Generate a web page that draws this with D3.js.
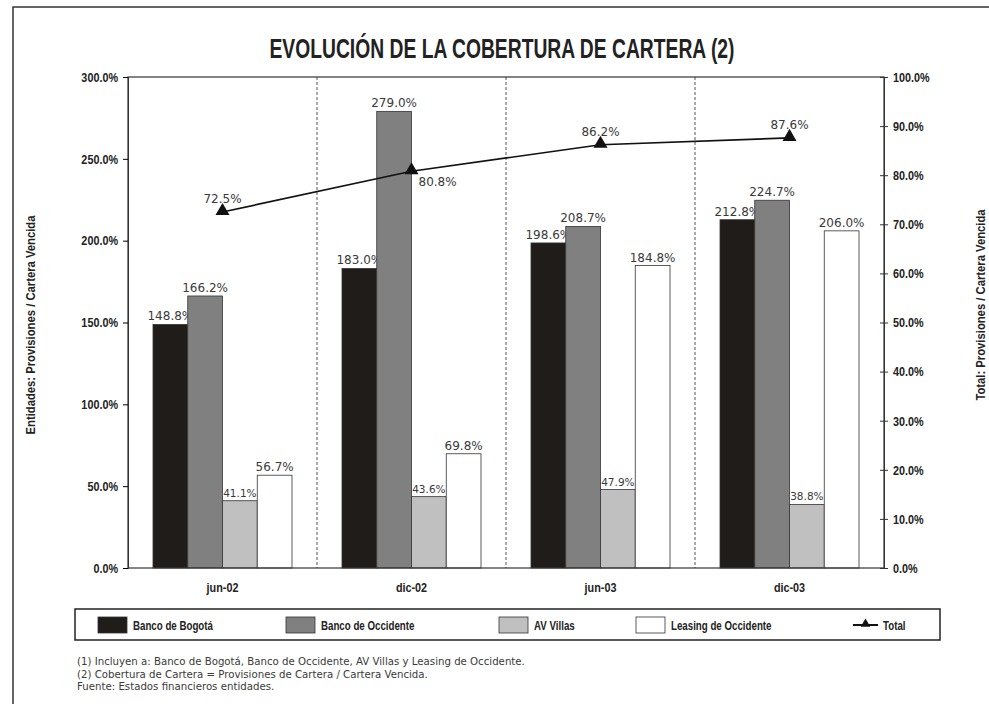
<!DOCTYPE html>
<html>
<head>
<meta charset="utf-8">
<script src="https://cdn.jsdelivr.net/npm/d3@7"></script>
<style>
  body { margin: 0; background: #fff; }
  .cond { font-family: "Liberation Sans", Arial, sans-serif; font-weight: bold; fill: #222; }
  .lbl { font-family: "DejaVu Sans", sans-serif; fill: #3a3a3a; }
</style>
</head>
<body>
<svg width="989" height="704"></svg>
<script>
// Categories and series values (percent).
const periods = ["jun-02", "dic-02", "jun-03", "dic-03"];
const entities = ["Banco de Bogotá", "Banco de Occidente", "AV Villas", "Leasing de Occidente"];
const bogota = [148.8, 183.0, 198.6, 212.8];
const occidente = [166.2, 279.0, 208.7, 224.7];
const avVillas = [41.1, 43.6, 47.9, 38.8];
const leasing = [56.7, 69.8, 184.8, 206.0];
const total = [72.5, 80.8, 86.2, 87.6];
const leftTicks = [0, 50, 100, 150, 200, 250, 300];
const rightTicks = [0, 10, 20, 30, 40, 50, 60, 70, 80, 90, 100];
const footnotes = [
  "(1) Incluyen a: Banco de Bogotá, Banco de Occidente, AV Villas y Leasing de Occidente.",
  "(2) Cobertura de Cartera = Provisiones de Cartera / Cartera Vencida.",
  "Fuente: Estados financieros entidades."
];

const seriesValues = [bogota, occidente, avVillas, leasing];
const fills = ["#201c19", "#808080", "#c0c0c0", "#ffffff"];

const svg = d3.select("svg");

// Squeeze bold text horizontally to imitate a condensed face.
function condense(sel, factor) {
  sel.each(function () {
    const w = this.getComputedTextLength();
    d3.select(this).attr("textLength", w * factor).attr("lengthAdjust", "spacingAndGlyphs");
  });
}

// Outer frame (top and left edges only).
svg.append("path")
  .attr("d", "M13,704 V7 H989")
  .attr("fill", "none").attr("stroke", "#333").attr("stroke-width", 1.5);

// Title.
svg.append("text").attr("class", "cond")
  .attr("x", 502).attr("y", 58)
  .attr("text-anchor", "middle")
  .style("font-size", "27px")
  .attr("textLength", 465).attr("lengthAdjust", "spacingAndGlyphs")
  .text("EVOLUCIÓN DE LA COBERTURA DE CARTERA (2)");

// Scales.
const plotL = 128, plotR = 884, plotT = 77, plotB = 568;
const x = d3.scaleBand().domain(periods).range([plotL, plotR]);
const xs = d3.scaleBand().domain(entities).range([25, x.bandwidth() - 25]);
const yL = d3.scaleLinear().domain([0, 300]).range([plotB, plotT]);
const yR = d3.scaleLinear().domain([0, 100]).range([plotB, plotT]);

// Dotted category dividers.
svg.selectAll("line.div")
  .data(periods.slice(1))
  .enter().append("line")
  .attr("x1", d => x(d)).attr("x2", d => x(d))
  .attr("y1", plotT).attr("y2", plotB)
  .attr("stroke", "#555").attr("stroke-width", 1)
  .attr("stroke-dasharray", "3,2");

// Bars.
const groups = svg.selectAll("g.grp")
  .data(periods)
  .enter().append("g")
  .attr("transform", d => `translate(${x(d)},0)`);

groups.each(function (p, i) {
  const g = d3.select(this);
  entities.forEach((e, k) => {
    const v = seriesValues[k][i];
    g.append("rect")
      .attr("x", xs(e)).attr("width", xs.bandwidth())
      .attr("y", yL(v)).attr("height", plotB - yL(v))
      .attr("fill", fills[k])
      .attr("stroke", "#333").attr("stroke-width", 0.8);
    g.append("text").attr("class", "lbl")
      .attr("x", xs(e) + xs.bandwidth() / 2)
      .attr("y", yL(v) - 4)
      .attr("text-anchor", "middle")
      .style("font-size", k === 2 ? "10.5px" : "12px")
      .text(v.toFixed(1) + "%");
  });
});

// Plot frame.
svg.append("rect")
  .attr("x", plotL).attr("y", plotT)
  .attr("width", plotR - plotL).attr("height", plotB - plotT)
  .attr("fill", "none").attr("stroke", "#333").attr("stroke-width", 1.2);

// Left axis.
const axL = svg.append("g")
  .attr("transform", `translate(${plotL},0)`)
  .call(d3.axisLeft(yL).tickValues(leftTicks).tickSize(5).tickFormat(d => d.toFixed(1) + "%"));
axL.select(".domain").attr("stroke", "#333");
axL.selectAll("text").attr("class", "cond").style("font-size", "13.5px").attr("x", -10).call(condense, 0.8);

// Right axis (ticks cross the line).
const axR = svg.append("g")
  .attr("transform", `translate(${plotR},0)`)
  .call(d3.axisRight(yR).tickValues(rightTicks).tickSize(4).tickFormat(d => d.toFixed(1) + "%"));
axR.select(".domain").attr("stroke", "#333");
axR.selectAll(".tick line").attr("x1", -4).attr("stroke", "#333");
axR.selectAll("text").attr("class", "cond").style("font-size", "13.5px").attr("x", 9).call(condense, 0.8);

// Category labels.
svg.selectAll("text.cat")
  .data(periods)
  .enter().append("text")
  .attr("class", "cond")
  .attr("x", d => x(d) + x.bandwidth() / 2)
  .attr("y", 592)
  .attr("text-anchor", "middle")
  .style("font-size", "13.5px")
  .text(d => d)
  .call(condense, 0.8);

// Axis titles.
svg.append("text").attr("class", "cond")
  .attr("transform", "translate(35,325) rotate(-90)")
  .attr("text-anchor", "middle")
  .style("font-size", "12.5px")
  .text("Entidades: Provisiones / Cartera Vencida")
  .call(condense, 0.9);
svg.append("text").attr("class", "cond")
  .attr("transform", "translate(985,305) rotate(-90)")
  .attr("text-anchor", "middle")
  .style("font-size", "12.5px")
  .text("Total: Provisiones / Cartera Vencida")
  .call(condense, 0.9);

// Total line.
const cx = d => x(d) + x.bandwidth() / 2;
const line = d3.line().x((d, i) => cx(periods[i])).y(d => yR(d));
svg.append("path")
  .datum(total)
  .attr("d", line)
  .attr("fill", "none").attr("stroke", "#111").attr("stroke-width", 1.7);

const tri = d3.symbol().type(d3.symbolTriangle).size(85);
svg.selectAll("path.mk")
  .data(total)
  .enter().append("path")
  .attr("d", tri)
  .attr("transform", (d, i) => `translate(${cx(periods[i])},${yR(d) - 1})`)
  .attr("fill", "#111");

svg.selectAll("text.tot")
  .data(total)
  .enter().append("text")
  .attr("class", "lbl")
  .attr("x", (d, i) => cx(periods[i]) + (i === 1 ? 7 : 0))
  .attr("y", (d, i) => yR(d) + (i === 1 ? 15 : -9))
  .attr("text-anchor", (d, i) => i === 1 ? "start" : "middle")
  .style("font-size", "12px")
  .text(d => d.toFixed(1) + "%");

// Legend.
svg.append("rect")
  .attr("x", 75).attr("y", 609).attr("width", 865).attr("height", 31)
  .attr("fill", "#fff").attr("stroke", "#222").attr("stroke-width", 1.5);

const legendX = [98, 286, 499, 636];
entities.forEach((e, k) => {
  svg.append("rect")
    .attr("x", legendX[k]).attr("y", 617).attr("width", 29).attr("height", 16)
    .attr("fill", fills[k]).attr("stroke", "#333").attr("stroke-width", 0.8);
  svg.append("text").attr("class", "cond")
    .attr("x", legendX[k] + 35).attr("y", 630)
    .style("font-size", "13.5px")
    .text(e)
    .call(condense, 0.72);
});
svg.append("line")
  .attr("x1", 853).attr("x2", 878).attr("y1", 625).attr("y2", 625)
  .attr("stroke", "#111").attr("stroke-width", 2);
svg.append("path")
  .attr("d", d3.symbol().type(d3.symbolTriangle).size(40))
  .attr("transform", "translate(865.5,624)")
  .attr("fill", "#111");
svg.append("text").attr("class", "cond")
  .attr("x", 883).attr("y", 630)
  .style("font-size", "13.5px")
  .text("Total")
  .call(condense, 0.72);

// Footnotes.
svg.selectAll("text.fn")
  .data(footnotes)
  .enter().append("text")
  .attr("class", "lbl")
  .attr("x", 77)
  .attr("y", (d, i) => 665 + i * 12.5)
  .style("font-size", "10.2px")
  .text(d => d);
</script>
</body>
</html>
